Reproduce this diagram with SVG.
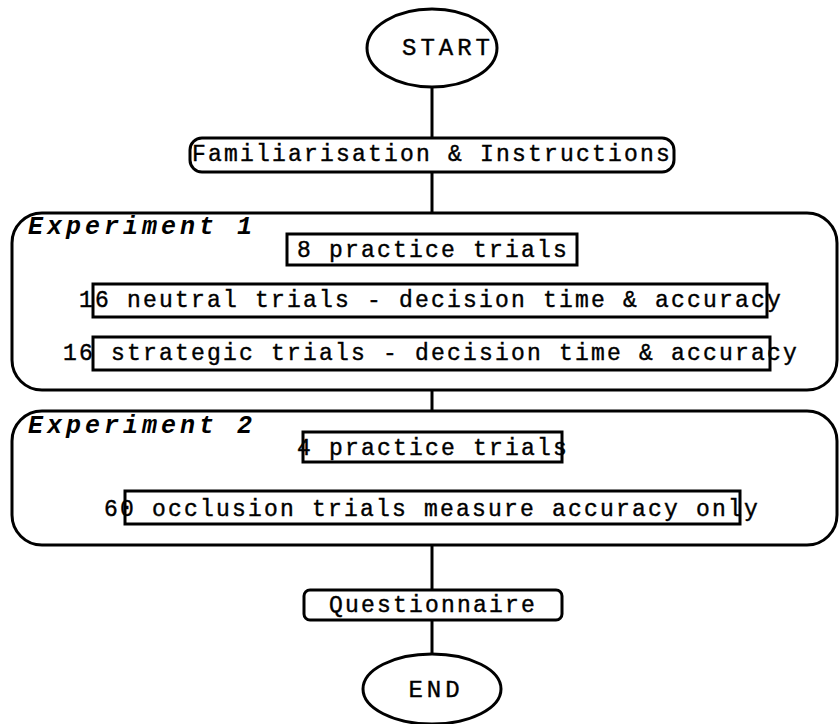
<svg xmlns="http://www.w3.org/2000/svg" width="839" height="724" viewBox="0 0 839 724">
<style>
.s{fill:none;stroke:#000;stroke-width:3}
.w{fill:#fff;stroke:#000;stroke-width:3}
.t{font-family:"Liberation Mono",monospace;font-size:23px;letter-spacing:2.2px;fill:#000;stroke:#000;stroke-width:0.4;text-anchor:middle}
.h{font-family:"Liberation Mono",monospace;font-size:25px;font-weight:bold;font-style:italic;letter-spacing:4px;fill:#000}
.e{font-family:"Liberation Mono",monospace;font-size:24px;letter-spacing:4px;fill:#000;stroke:#000;stroke-width:0.4;text-anchor:middle}
</style>
<rect width="839" height="724" fill="#fff"/>
<g id="connectors">
<line class="s" x1="432" y1="87" x2="432" y2="138"/>
<line class="s" x1="432" y1="172" x2="432" y2="213"/>
<line class="s" x1="432" y1="390" x2="432" y2="411"/>
<line class="s" x1="432" y1="545" x2="432" y2="590"/>
<line class="s" x1="432" y1="620" x2="432" y2="655"/>
</g>
<g id="start">
<ellipse class="w" cx="432" cy="48" rx="65" ry="39"/>
<text class="e" x="448" y="55">START</text>
</g>
<g id="familiarisation">
<rect class="w" x="190" y="138" width="484" height="34" rx="12"/>
<text class="t" x="432" y="161">Familiarisation &amp; Instructions</text>
</g>
<g id="experiment1">
<rect class="s" x="12" y="213" width="825" height="177" rx="30"/>
<text class="h" x="28" y="234">Experiment 1</text>
<g id="practice8">
<rect class="s" x="287" y="234" width="290" height="31"/>
<text class="t" x="433" y="257">8 practice trials</text>
</g>
<g id="neutral">
<text class="t" x="431" y="307">16 neutral trials - decision time &amp; accuracy</text>
<rect class="s" x="93" y="284" width="674" height="33"/>
</g>
<g id="strategic">
<text class="t" x="431" y="360">16 strategic trials - decision time &amp; accuracy</text>
<rect class="s" x="93" y="337" width="677" height="33"/>
</g>
</g>
<g id="experiment2">
<rect class="s" x="12" y="411" width="825" height="134" rx="30"/>
<text class="h" x="28" y="433">Experiment 2</text>
<g id="practice4">
<text class="t" x="433" y="455">4 practice trials</text>
<rect class="s" x="303" y="432" width="259" height="30"/>
</g>
<g id="occlusion">
<text class="t" x="432" y="516">60 occlusion trials measure accuracy only</text>
<rect class="s" x="125" y="491" width="615" height="33"/>
</g>
</g>
<g id="questionnaire">
<rect class="w" x="304" y="590" width="258" height="30" rx="6"/>
<text class="t" x="433" y="612">Questionnaire</text>
</g>
<g id="end">
<ellipse class="w" cx="432" cy="689" rx="69" ry="35"/>
<text class="e" x="436" y="697">END</text>
</g>
</svg>
